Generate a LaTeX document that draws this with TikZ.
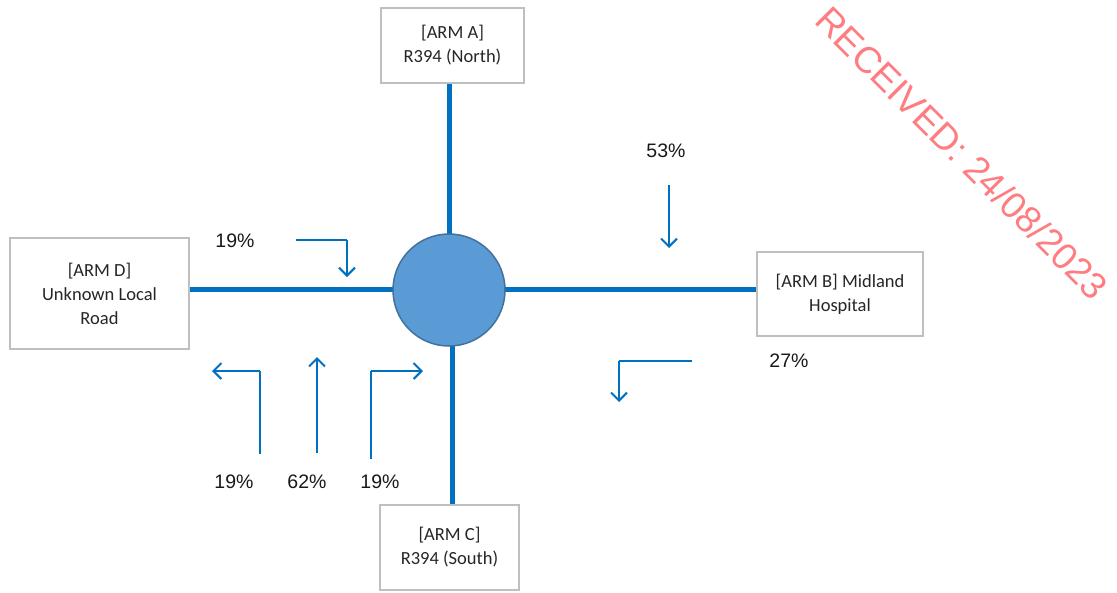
\documentclass[tikz,border=0pt]{standalone}
\usepackage{fontspec}
\setmainfont{Carlito}
\newfontfamily\labelfont{Liberation Sans}
\usetikzlibrary{arrows.meta}
\definecolor{roadblue}{HTML}{0070C0}
\definecolor{hubfill}{HTML}{5B9BD5}
\definecolor{hubedge}{HTML}{41719C}
\definecolor{boxgray}{HTML}{BFBFBF}
\definecolor{inktext}{HTML}{262626}
\definecolor{stamp}{HTML}{FF7C80}
\tikzset{
  armbox/.style={draw=boxgray, line width=1.2pt, fill=white, align=center,
    text=inktext, inner sep=0pt,
    font=\fontsize{18.5}{24}\selectfont},
  road/.style={draw=roadblue, line width=5pt},
  thinleg/.style={draw=roadblue, line width=1.3pt},
  flow/.style={draw=roadblue, line width=2pt,
    -{Straight Barb[length=8pt, width=16pt, line width=2pt]}},
  pct/.style={font=\labelfont\fontsize{19.5}{21}\selectfont, text=black!90, inner sep=0pt}
}
\begin{document}
\begin{tikzpicture}[x=1pt, y=-1pt]
\useasboundingbox[fill=white] (0,0) rectangle (1117,592);

% arm boxes
\node[armbox, minimum width=143pt, minimum height=75pt] (A) at (452.5,45.5) {[ARM A]\\R394 (North)};
\node[armbox, minimum width=179pt, minimum height=111pt] (D) at (99.5,293.5) {[ARM D]\\Unknown Local\\Road};
\node[armbox, minimum width=166pt, minimum height=84pt] (B) at (840,294) {[ARM B] Midland\\Hospital};
\node[armbox, minimum width=139pt, minimum height=85pt] (C) at (449.5,547.5) {[ARM C]\\R394 (South)};

% central junction
\node[circle, minimum size=112pt, inner sep=0pt] (J) at (449,290) {};

% roads running into the junction
\draw[road] (J.center) -- (J.center |- A.south);
\draw[road] ([xshift=3pt]J.center) -- ([xshift=3pt]J.center |- C.north);
\draw[road] ([yshift=1pt]J.center) -- ([yshift=1pt]J.center -| D.east);
\draw[road] ([yshift=1pt]J.center) -- ([yshift=1pt]J.center -| B.west);

\node[circle, draw=hubedge, line width=1.5pt, fill=hubfill, minimum size=112pt, inner sep=0pt] (Jtop) at (J) {};

% turning flows from Arm D
\coordinate (d1) at (296,240);
\coordinate (d2) at (347,240);
\coordinate (d3) at (347,277);
\draw[thinleg] (d1) -- (d2);
\draw[flow] (d2) -- (d3);
\node[pct] (pD) at (235,241) {19\%};

% flow from Arm B
\coordinate (b1) at (669,185);
\coordinate (b2) at (669,248);
\draw[flow] (b1) -- (b2);
\node[pct] (pB1) at (666,151) {53\%};

\coordinate (b3) at (692,361);
\coordinate (b4) at (619,361);
\coordinate (b5) at (619,402);
\draw[thinleg] (b3) -- (b4);
\draw[flow] (b4) -- (b5);
\node[pct] (pB2) at (789,361) {27\%};

% flows from Arm C
\coordinate (c1) at (260,454);
\coordinate (c2) at (260,371);
\coordinate (c3) at (212,371);
\draw[thinleg] (c1) -- (c2);
\draw[flow] (c2) -- (c3);

\coordinate (c4) at (317,453);
\coordinate (c5) at (317,357);
\draw[flow, line width=2.5pt] (c4) -- (c5);

\coordinate (c6) at (371,459);
\coordinate (c7) at (371,371);
\coordinate (c8) at (423,371);
\draw[thinleg] (c6) -- (c7);
\draw[flow] (c7) -- (c8);

\node[pct] (pC1) at (234,482) {19\%};
\node[pct] (pC2) at (307,482) {62\%};
\node[pct] (pC3) at (380,482) {19\%};

% received stamp
\node[font=\labelfont\fontsize{37}{40}\selectfont, text=stamp, rotate=-45, inner sep=0pt] (stampmark) at (962,153) {RECEIVED: 24/08/2023};
\end{tikzpicture}
\end{document}
